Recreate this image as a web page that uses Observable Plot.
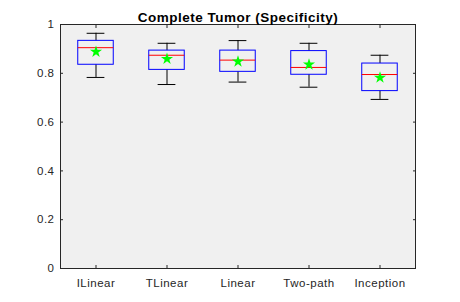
<!DOCTYPE html>
<html>
<head>
<meta charset="utf-8">
<script src="https://cdn.jsdelivr.net/npm/d3@7"></script>
<script src="https://cdn.jsdelivr.net/npm/@observablehq/plot@0.6"></script>
<style>
  html, body { margin: 0; padding: 0; background: #fff; }
  svg { display: block; }
  svg text { letter-spacing: 0.5px; }
</style>
</head>
<body>
<div id="chart"></div>
<script>
const title = "Complete Tumor (Specificity)";
const categories = ["ILinear", "TLinear", "Linear", "Two-path", "Inception"];
const whiskerLow  = [0.783, 0.754, 0.764, 0.743, 0.693];
const q1          = [0.835, 0.814, 0.806, 0.794, 0.727];
const median      = [0.905, 0.874, 0.854, 0.824, 0.795];
const q3          = [0.933, 0.893, 0.893, 0.891, 0.840];
const whiskerHigh = [0.964, 0.923, 0.934, 0.923, 0.874];
const mean        = [0.888, 0.859, 0.848, 0.836, 0.782];
const yTicks = [0, 0.2, 0.4, 0.6, 0.8, 1];
const yTickLabels = ["0", "0.2", "0.4", "0.6", "0.8", "1"];

const data = categories.map((c, k) => ({
  i: k + 1, name: c, lo: whiskerLow[k], q1: q1[k], med: median[k],
  q3: q3[k], hi: whiskerHigh[k], mean: mean[k]
}));
const boxHalf = 0.25, capHalf = 0.125;
const axisColor = "#262626";

const plot = Plot.plot({
  width: 460,
  height: 302,
  marginLeft: 60,
  marginRight: 45,
  marginTop: 24,
  marginBottom: 34,
  style: { fontFamily: "Liberation Sans, Arial, sans-serif", fontSize: "11.5px", color: axisColor, background: "#fff" },
  x: { type: "linear", domain: [0.5, 5.5] },
  y: { domain: [0, 1] },
  marks: [
    Plot.frame({ fill: "#f0f0f0", stroke: "none" }),
    Plot.ruleX(data, { x: "i", y1: "q3", y2: "hi", stroke: "#000", strokeWidth: 1 }),
    Plot.ruleX(data, { x: "i", y1: "lo", y2: "q1", stroke: "#000", strokeWidth: 1 }),
    Plot.ruleY(data, { y: "hi", x1: d => d.i - capHalf, x2: d => d.i + capHalf, stroke: "#000" }),
    Plot.ruleY(data, { y: "lo", x1: d => d.i - capHalf, x2: d => d.i + capHalf, stroke: "#000" }),
    Plot.rect(data, { x1: d => d.i - boxHalf, x2: d => d.i + boxHalf, y1: "q1", y2: "q3", fill: "none", stroke: "#0000ff", strokeWidth: 1 }),
    Plot.ruleY(data, { y: "med", x1: d => d.i - boxHalf, x2: d => d.i + boxHalf, stroke: "#ff0000", strokeWidth: 1 }),
    Plot.dot(data, { x: "i", y: "mean", symbol: "star", fill: "#00ff00", stroke: "none", r: 3.8 }),
    Plot.axisY({ anchor: "left", ticks: yTicks, tickSize: -3, tickPadding: 9, tickFormat: (d) => yTickLabels[yTicks.indexOf(d)], stroke: axisColor, fill: axisColor, label: null }),
    Plot.axisY({ anchor: "right", ticks: yTicks, tickSize: -3, tickFormat: () => "", stroke: axisColor, label: null }),
    Plot.axisX({ anchor: "bottom", ticks: data.map(d => d.i), tickSize: -3, tickPadding: 13, tickFormat: (d) => categories[d - 1], stroke: axisColor, fill: axisColor, label: null }),
    Plot.axisX({ anchor: "top", ticks: data.map(d => d.i), tickSize: -3, tickFormat: () => "", stroke: axisColor, label: null }),
    Plot.frame({ stroke: axisColor, strokeWidth: 1 }),
    Plot.text([title], { frameAnchor: "top", dy: -12, text: d => d, fontWeight: "bold", fontSize: 13.5, fill: "#000" })
  ]
});
document.getElementById("chart").appendChild(plot);
</script>
</body>
</html>
